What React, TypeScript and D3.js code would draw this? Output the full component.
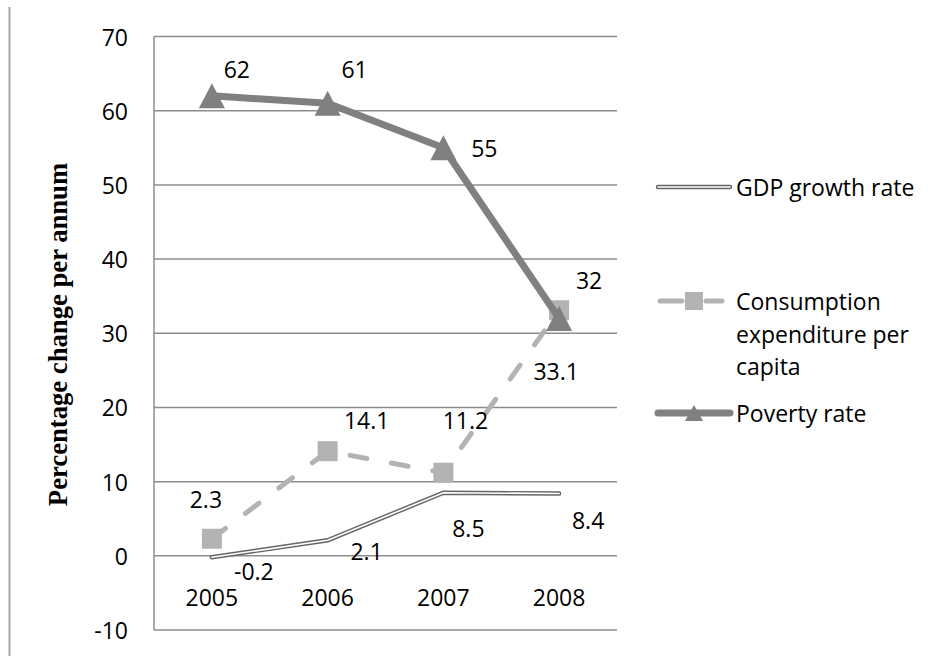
import React from "react";
import * as d3 from "d3";

// Years on the category axis
const years = ["2005", "2006", "2007", "2008"];

// Series values (percent)
const gdpGrowth = [-0.2, 2.1, 8.5, 8.4];
const consumptionPerCapita = [2.3, 14.1, 11.2, 33.1];
const povertyRate = [62, 61, 55, 32];

// Value axis ticks
const yTicks = [-10, 0, 10, 20, 30, 40, 50, 60, 70];

// Series names shown in the legend (multi-line names split per line)
const gdpName = ["GDP growth rate"];
const consumptionName = ["Consumption", "expenditure per", "capita"];
const povertyName = ["Poverty rate"];

// Data-label placement relative to each point, in pixels [dx, dy]
const gdpLabelOffsets = [[42, 14], [39, 11], [25, 35], [29, 27]];
const consumptionLabelOffsets = [[-6, -40], [39, -31], [22, -53], [-3, 61]];
const povertyLabelOffsets = [[25, -27], [27, -34], [41, 0], [30, -38]];

const W = 933;
const H = 656;
const plot = { left: 154, right: 617, top: 36.5, bottom: 630 };

const SANS = "'Open Sans', 'Liberation Sans', sans-serif";
const SERIF = "'Liberation Serif', 'DejaVu Serif', serif";
const FS = 23;

const GRID = "#8c8c8c";
const POVERTY = "#808080";
const CONSUMPTION = "#b3b3b3";
const GDP = "#666666";

export default function App() {
  const x = d3.scaleBand<string>().domain(years).range([plot.left, plot.right]).paddingInner(0).paddingOuter(0);
  const cx = (yr: string) => (x(yr) as number) + x.bandwidth() / 2;
  const y = d3.scaleLinear().domain([-10, 70]).range([plot.bottom, plot.top]);

  const line = d3
    .line<number>()
    .x((_, i) => cx(years[i]))
    .y((v) => y(v));

  const labels = (vals: number[], offs: number[][], key: string) =>
    vals.map((v, i) => (
      <text
        key={key + i}
        x={cx(years[i]) + offs[i][0]}
        y={y(v) + offs[i][1]}
        textAnchor="middle"
        dominantBaseline="central"
        fontFamily={SANS}
        fontSize={FS}
        fill="#000"
      >
        {String(v)}
      </text>
    ));

  const triangle = (px: number, py: number, w: number, h: number) =>
    `M${px},${py - h / 2}L${px + w / 2},${py + h / 2}L${px - w / 2},${py + h / 2}Z`;

  // Legend geometry
  const lgX0 = 658;
  const lgX1 = 730;
  const lgMid = 694;
  const lgText = 736;
  const lgGdpY = 187;
  const lgConY = 301;
  const lgPovY = 413;
  const lineGap = 32.5;

  return (
    <svg
      width={W}
      height={H}
      viewBox={`0 0 ${W} ${H}`}
      style={{ position: "absolute", left: 0, top: 0, background: "#fff" }}
    >
      <rect x={0} y={0} width={W} height={H} fill="#fff" />
      {/* frame line on the left */}
      <line x1={9.5} x2={9.5} y1={7} y2={H} stroke="#a6a6a6" strokeWidth={2} />

      {/* horizontal gridlines */}
      {yTicks.map((t) => (
        <line
          key={"g" + t}
          x1={plot.left}
          x2={plot.right}
          y1={y(t)}
          y2={y(t)}
          stroke={GRID}
          strokeWidth={1.5}
        />
      ))}
      {/* value axis */}
      <line x1={plot.left} x2={plot.left} y1={plot.top} y2={plot.bottom} stroke={GRID} strokeWidth={1.5} />

      {/* value tick labels */}
      {yTicks.map((t) => (
        <text
          key={"t" + t}
          x={128}
          y={y(t)}
          textAnchor="end"
          dominantBaseline="central"
          fontFamily={SANS}
          fontSize={FS}
          fill="#000"
        >
          {String(t)}
        </text>
      ))}

      {/* category labels */}
      {years.map((yr) => (
        <text
          key={"c" + yr}
          x={cx(yr)}
          y={597}
          textAnchor="middle"
          dominantBaseline="central"
          fontFamily={SANS}
          fontSize={FS}
          fill="#000"
        >
          {yr}
        </text>
      ))}

      {/* axis title */}
      <text
        transform={`translate(67,334.5) rotate(-90)`}
        textAnchor="middle"
        fontFamily={SERIF}
        fontWeight="bold"
        fontSize={26.67}
        fill="#000"
      >
        Percentage change per annum
      </text>

      {/* GDP growth: double line */}
      <path d={line(gdpGrowth) || ""} fill="none" stroke={GDP} strokeWidth={4.5} strokeLinecap="round" />
      <path d={line(gdpGrowth) || ""} fill="none" stroke="#fff" strokeWidth={1.6} strokeLinecap="round" />

      {/* Consumption: dashed line with square markers */}
      <path
        d={line(consumptionPerCapita) || ""}
        fill="none"
        stroke={CONSUMPTION}
        strokeWidth={5}
        strokeDasharray="17 25"
        strokeLinecap="round"
      />
      {consumptionPerCapita.map((v, i) => (
        <rect key={"s" + i} x={cx(years[i]) - 10} y={y(v) - 10} width={20} height={20} fill={CONSUMPTION} />
      ))}

      {/* Poverty: thick line with triangle markers */}
      <path
        d={line(povertyRate) || ""}
        fill="none"
        stroke={POVERTY}
        strokeWidth={7}
        strokeLinecap="round"
        strokeLinejoin="round"
      />
      {povertyRate.map((v, i) => (
        <path key={"p" + i} d={triangle(cx(years[i]), y(v), 26, 25)} fill={POVERTY} />
      ))}

      {/* data labels */}
      {labels(gdpGrowth, gdpLabelOffsets, "lg")}
      {labels(consumptionPerCapita, consumptionLabelOffsets, "lc")}
      {labels(povertyRate, povertyLabelOffsets, "lp")}

      {/* legend */}
      <line x1={lgX0} x2={lgX1} y1={lgGdpY} y2={lgGdpY} stroke={GDP} strokeWidth={4.5} strokeLinecap="round" />
      <line x1={lgX0} x2={lgX1} y1={lgGdpY} y2={lgGdpY} stroke="#fff" strokeWidth={1.6} strokeLinecap="round" />
      {gdpName.map((s, i) => (
        <text key={"ng" + i} x={lgText} y={lgGdpY + i * lineGap} dominantBaseline="central" fontFamily={SANS} fontSize={FS} fill="#000">
          {s}
        </text>
      ))}

      <line x1={lgX0 + 2} x2={lgMid - 12} y1={lgConY} y2={lgConY} stroke={CONSUMPTION} strokeWidth={5} strokeLinecap="round" />
      <line x1={lgMid + 12} x2={lgX1 - 8} y1={lgConY} y2={lgConY} stroke={CONSUMPTION} strokeWidth={5} strokeLinecap="round" />
      <rect x={lgMid - 9} y={lgConY - 9} width={18} height={18} fill={CONSUMPTION} />
      {consumptionName.map((s, i) => (
        <text key={"nc" + i} x={lgText} y={lgConY + i * lineGap} dominantBaseline="central" fontFamily={SANS} fontSize={FS} fill="#000">
          {s}
        </text>
      ))}

      <line x1={lgX0} x2={lgX1} y1={lgPovY} y2={lgPovY} stroke={POVERTY} strokeWidth={7} strokeLinecap="round" />
      <path d={triangle(lgMid, lgPovY, 18, 16)} fill={POVERTY} />
      {povertyName.map((s, i) => (
        <text key={"np" + i} x={lgText} y={lgPovY + i * lineGap} dominantBaseline="central" fontFamily={SANS} fontSize={FS} fill="#000">
          {s}
        </text>
      ))}
    </svg>
  );
}
